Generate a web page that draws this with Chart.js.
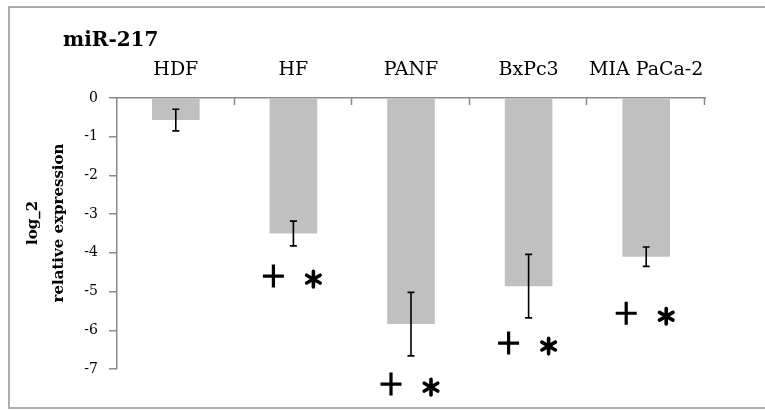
<!DOCTYPE html>
<html>
<head>
<meta charset="utf-8">
<script src="https://cdn.jsdelivr.net/npm/chart.js@4/dist/chart.umd.min.js"></script>
<style>
  html, body { margin: 0; padding: 0; background: #ffffff; }
  #wrap { width: 765px; height: 410px; }
</style>
</head>
<body>
<div id="wrap"><canvas id="c" width="765" height="410"></canvas></div>
<script>
// miR-217 expression per cell line (log2 relative to reference)
const cellLines   = ['HDF', 'HF', 'PANF', 'BxPc3', 'MIA PaCa-2'];
const meanExpr    = [-0.57, -3.50, -5.84, -4.86, -4.10];
const errExpr     = [0.28, 0.32, 0.82, 0.82, 0.25];
// significance flags and the level (in log2 units) where they are printed
const showPlus    = [false, true, true, true, true];
const showStar    = [false, true, true, true, true];
const markLevel   = [null, -4.60, -7.39, -6.33, -5.56];
const yTicks      = [0, -1, -2, -3, -4, -5, -6, -7];
const chartTitle  = 'miR-217';
const yTitleLines = ['log_2', 'relative expression'];

const SERIF = "'DejaVu Serif', 'Liberation Serif', serif";
const AXIS_COLOR = '#8a8a8a';

function drawPlus(ctx, x, y) {
  ctx.save();
  ctx.lineWidth = 3.2;
  ctx.lineCap = 'butt';
  ctx.beginPath();
  ctx.moveTo(x - 10.5, y); ctx.lineTo(x + 10.5, y);
  ctx.moveTo(x, y - 11.5); ctx.lineTo(x, y + 11.5);
  ctx.stroke();
  ctx.restore();
}

function drawStar(ctx, x, y) {
  ctx.save();
  ctx.lineWidth = 3.6;
  ctx.lineCap = 'round';
  ctx.beginPath();
  for (let k = 0; k < 3; k++) {
    const a = Math.PI / 2 + k * Math.PI / 3;
    const dx = Math.cos(a) * 7.8, dy = Math.sin(a) * 7.8;
    ctx.moveTo(x - dx, y - dy); ctx.lineTo(x + dx, y + dy);
  }
  ctx.stroke();
  ctx.restore();
}

const decorations = {
  id: 'decorations',
  beforeDraw(chart) {
    const ctx = chart.ctx;
    ctx.save();
    ctx.fillStyle = '#ffffff';
    ctx.fillRect(0, 0, chart.width, chart.height);
    // outer frame (left, top, bottom)
    ctx.strokeStyle = '#adadad';
    ctx.lineWidth = 2;
    ctx.beginPath();
    ctx.moveTo(chart.width, 7);
    ctx.lineTo(9, 7);
    ctx.lineTo(9, 408);
    ctx.lineTo(chart.width, 408);
    ctx.stroke();
    ctx.restore();
  },
  afterDraw(chart) {
    const ctx = chart.ctx;
    const xs = chart.scales.x, ys = chart.scales.y;
    const n = cellLines.length;
    const half = (xs.right - xs.left) / (2 * n);
    ctx.save();

    // inward tick marks on the top category axis
    ctx.strokeStyle = AXIS_COLOR;
    ctx.lineWidth = 1.5;
    ctx.beginPath();
    for (let i = 0; i < n; i++) {
      const px = Math.round(xs.getPixelForValue(i) + half) - 0.5;
      ctx.moveTo(px, ys.top);
      ctx.lineTo(px, ys.top + 7);
    }
    ctx.stroke();

    // error bars
    ctx.strokeStyle = '#000000';
    ctx.lineWidth = 1.6;
    for (let i = 0; i < n; i++) {
      const cx = xs.getPixelForValue(i);
      const yTop = ys.getPixelForValue(meanExpr[i] + errExpr[i]);
      const yBot = ys.getPixelForValue(meanExpr[i] - errExpr[i]);
      ctx.beginPath();
      ctx.moveTo(cx, yTop); ctx.lineTo(cx, yBot);
      ctx.moveTo(cx - 3.5, yTop); ctx.lineTo(cx + 3.5, yTop);
      ctx.moveTo(cx - 3.5, yBot); ctx.lineTo(cx + 3.5, yBot);
      ctx.stroke();
    }

    // significance markers
    ctx.strokeStyle = '#000000';
    for (let i = 0; i < n; i++) {
      if (markLevel[i] === null) continue;
      const cx = xs.getPixelForValue(i);
      const my = ys.getPixelForValue(markLevel[i]);
      if (showPlus[i]) drawPlus(ctx, cx - 20, my);
      if (showStar[i]) drawStar(ctx, cx + 20, my + 3);
    }

    // chart title
    ctx.fillStyle = '#000000';
    ctx.textAlign = 'left';
    ctx.textBaseline = 'alphabetic';
    ctx.font = "bold 20px " + SERIF;
    ctx.fillText(chartTitle, 63, 46);

    // rotated y-axis title, two lines
    ctx.font = "bold 15px " + SERIF;
    ctx.textAlign = 'center';
    const cy = 223;
    const baselines = [37, 63];
    yTitleLines.forEach((t, k) => {
      ctx.save();
      ctx.translate(baselines[k], cy);
      ctx.rotate(-Math.PI / 2);
      ctx.fillText(t, 0, 0);
      ctx.restore();
    });

    ctx.restore();
  }
};

new Chart(document.getElementById('c'), {
  type: 'bar',
  data: {
    labels: cellLines,
    datasets: [{
      data: meanExpr,
      backgroundColor: '#c0c0c0',
      borderWidth: 0,
      barPercentage: 0.405,
      categoryPercentage: 1.0
    }]
  },
  options: {
    responsive: false,
    animation: false,
    devicePixelRatio: 1,
    layout: { padding: { left: 0, top: 0, right: 60, bottom: 41 } },
    plugins: {
      legend: { display: false },
      tooltip: { enabled: false },
      title: { display: false }
    },
    scales: {
      x: {
        position: 'top',
        offset: true,
        grid: { display: true, drawOnChartArea: false, drawTicks: false, offset: true },
        border: { display: true, color: AXIS_COLOR, width: 1.5 },
        ticks: {
          color: '#000000',
          font: { family: SERIF, size: 19 },
          padding: 17,
          maxRotation: 0,
          autoSkip: false
        },
        afterFit(scale) { scale.height = 98; }
      },
      y: {
        min: -7,
        max: 0,
        afterBuildTicks(scale) { scale.ticks = yTicks.map(v => ({ value: v })); },
        grid: { display: true, drawOnChartArea: false, drawTicks: true, tickLength: 8, color: AXIS_COLOR, lineWidth: 1.5 },
        border: { display: true, color: AXIS_COLOR, width: 1.5 },
        ticks: {
          color: '#000000',
          font: { family: SERIF, size: 14 },
          padding: 11,
          callback: (v) => String(v)
        },
        afterFit(scale) { scale.width = 117; }
      }
    }
  },
  plugins: [decorations]
});
</script>
</body>
</html>
